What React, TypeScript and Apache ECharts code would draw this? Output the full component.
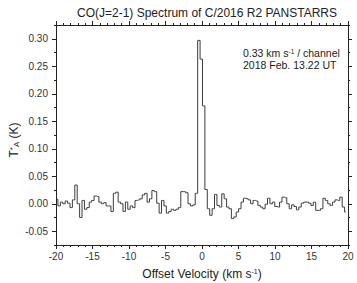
import React, { useEffect, useRef } from "react";
import * as echarts from "echarts";

// Channel grid: 0.33 km/s per channel, first channel centre at -19.9 km/s
const channelWidth = 0.33;
const firstChannel = -19.9;

// Antenna temperature T*A (K) per channel
const temps: number[] = [
  0.008, -0.004, 0.003, 0, 0.005, 0.001, -0.007, 0.007, 0.034, 0,
  -0.025, 0.006, -0.01, -0.007, 0.003, 0.006, 0.014, 0.013, 0.003, 0,
  0.002, -0.004, -0.004, -0.014, 0.019, 0.021, 0.003, 0, -0.014, 0.003,
  -0.01, -0.004, -0.007, 0.006, 0.007, 0.009, 0.016, 0.019, 0.003, 0.009,
  0.024, 0.022, 0.001, -0.017, 0.006, -0.004, -0.017, -0.014, -0.01, -0.012,
  -0.01, -0.007, 0.022, 0.022, 0.02, 0, -0.004, -0.002, 0.019,
  0.297, 0.263, 0.178,
  0.026, -0.009, -0.021, -0.009, 0.017, -0.003, -0.006, 0.018, 0.009, -0.006,
  -0.009, -0.027, -0.024, -0.015, -0.009, 0.003, 0.01, 0.009, 0.007, 0,
  0.006, 0.005, -0.003, -0.006, -0.009, -0.001, 0.01, 0, 0.003, -0.005,
  -0.006, 0.003, 0.012, 0.011, 0, -0.009, -0.002, -0.005, -0.011, -0.006,
  0.001, 0.003, 0.003, 0.001, -0.003, 0.003, -0.012, -0.012, -0.009, 0.01,
  0.006, 0, -0.003, 0.003, 0.007, 0.006, 0.012, -0.006, -0.015,
];

const yMajor = [-0.05, 0, 0.05, 0.1, 0.15, 0.2, 0.25, 0.3];
const yMinor = [-0.075, -0.025, 0.025, 0.075, 0.125, 0.175, 0.225, 0.275, 0.325];
const xMin = -20;
const xMax = 20;
const yMin = -0.075;
const yMax = 0.325;

const titleText = "CO(J=2-1) Spectrum of C/2016 R2 PANSTARRS";

export default function App() {
  const ref = useRef<HTMLDivElement>(null);
  useEffect(() => {
    if (!ref.current) return;
    const chart = echarts.init(ref.current, undefined, { renderer: "svg" });
    const data = temps.map((t, i) => [firstChannel + i * channelWidth, t]);
    const frame = "#222";
    const font = "Liberation Sans, Arial, sans-serif";
    const baseX = {
      type: "value" as const,
      min: xMin,
      max: xMax,
      interval: 5,
      axisLine: { show: true, onZero: false, lineStyle: { color: frame, width: 1 } },
      axisTick: { show: true, inside: false, length: 4, lineStyle: { color: frame } },
      minorTick: { show: true, splitNumber: 5, length: 2, lineStyle: { color: frame } },
      splitLine: { show: false },
    };
    const yAx = (position: "left" | "right", major: boolean, label: boolean) => ({
      type: "value" as const,
      position,
      min: yMin,
      max: yMax,
      axisLine: { show: major, onZero: false, lineStyle: { color: frame, width: 1 } },
      axisTick: {
        show: true,
        inside: false,
        length: major ? 4 : 2,
        customValues: major ? yMajor : yMinor,
        lineStyle: { color: frame },
      },
      axisLabel: label
        ? {
            show: true,
            customValues: yMajor,
            margin: 8,
            fontSize: 10,
            color: "#333",
            fontFamily: font,
            formatter: (v: number) => v.toFixed(2),
          }
        : { show: false },
      splitLine: { show: false },
    });
    chart.setOption({
      animation: false,
      backgroundColor: "#fff",
      textStyle: { fontFamily: font },
      title: {
        text: titleText,
        left: 202,
        textAlign: "center",
        top: 2,
        textStyle: { fontSize: 12, fontWeight: "normal", color: "#222", fontFamily: font },
      },
      grid: { left: 56, right: 9, top: 25, bottom: 38, containLabel: false, outerBoundsMode: "none" },
      xAxis: [
        {
          ...baseX,
          position: "bottom",
          axisLabel: { show: true, margin: 6, fontSize: 10, color: "#333", fontFamily: font },
        },
        {
          ...baseX,
          position: "top",
          axisLabel: { show: false },
        },
      ],
      yAxis: [yAx("left", true, true), yAx("left", false, false), yAx("right", true, false), yAx("right", false, false)],
      series: [
        {
          type: "line",
          xAxisIndex: 0,
          yAxisIndex: 0,
          step: "middle",
          showSymbol: false,
          data,
          lineStyle: { color: "#3c3c3c", width: 1 },
        },
      ],
      graphic: [
        {
          type: "text",
          x: 202,
          y: 274,
          style: {
            text: "Offset Velocity (km s{sup|-1})",
            align: "center",
            verticalAlign: "middle",
            fontSize: 12,
            fill: "#222",
            fontFamily: font,
            rich: { sup: { fontSize: 7, verticalAlign: "top", fill: "#222", fontFamily: font } },
          },
        },
        {
          type: "text",
          x: 14,
          y: 140,
          rotation: Math.PI / 2,
          style: {
            text: "T{sup|*}{sub|A} (K)",
            align: "center",
            verticalAlign: "middle",
            fontSize: 12,
            fill: "#222",
            fontFamily: font,
            rich: {
              sup: { fontSize: 8, verticalAlign: "top", fill: "#222", fontFamily: font },
              sub: { fontSize: 8, verticalAlign: "bottom", fill: "#222", fontFamily: font },
            },
          },
        },
        {
          type: "text",
          x: 243,
          y: 53,
          style: {
            text: "0.33 km s{sup|-1} / channel",
            align: "left",
            verticalAlign: "middle",
            fontSize: 10.5,
            fill: "#222",
            fontFamily: font,
            rich: { sup: { fontSize: 6.5, verticalAlign: "top", fill: "#222", fontFamily: font } },
          },
        },
        {
          type: "text",
          x: 243,
          y: 65,
          style: {
            text: "2018 Feb. 13.22 UT",
            align: "left",
            verticalAlign: "middle",
            fontSize: 10.5,
            fill: "#222",
            fontFamily: font,
          },
        },
      ],
    });
    return () => chart.dispose();
  }, []);
  return <div ref={ref} style={{ width: 357, height: 283, position: "absolute", left: 0, top: 0 }} />;
}
